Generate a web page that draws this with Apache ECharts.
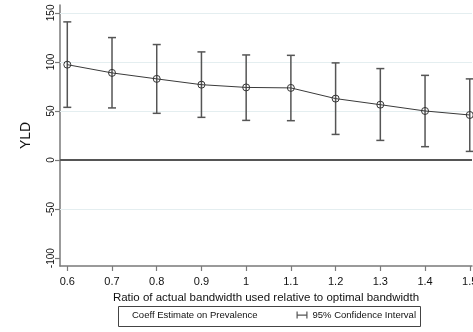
<!DOCTYPE html>
<html>
<head>
<meta charset="utf-8">
<script src="https://cdn.jsdelivr.net/npm/echarts@6/dist/echarts.min.js"></script>
<style>
html,body{margin:0;padding:0;background:#fff;}
#chart{width:473px;height:332px;}
</style>
</head>
<body>
<div id="chart"></div>
<script>
// Data
var ratios = [0.6, 0.7, 0.8, 0.9, 1.0, 1.1, 1.2, 1.3, 1.4, 1.5];
var coef   = [97.2, 88.8, 82.7, 76.8, 74.0, 73.5, 62.6, 56.4, 50.0, 45.9];
var ciLow  = [53.7, 53.1, 47.6, 43.5, 40.4, 40.1, 26.1, 20.0, 13.6, 8.8];
var ciHigh = [140.8, 124.8, 117.7, 110.2, 107.1, 106.7, 99.0, 93.2, 86.3, 82.7];
var xTicks = [0.6, 0.7, 0.8, 0.9, 1.0, 1.1, 1.2, 1.3, 1.4, 1.5];
var yTicks = [-100, -50, 0, 50, 100, 150];
var yGrid  = [-50, 50, 100, 150];

var FONT = 'Liberation Sans, Arial, sans-serif';
var chart = echarts.init(document.getElementById('chart'));

var lineData = ratios.map(function (r, i) { return [r, coef[i]]; });
var ciData = ratios.map(function (r, i) { return [r, ciLow[i], ciHigh[i]]; });

var gridMarks = yGrid.map(function (v) {
  return { yAxis: v, lineStyle: { color: '#e4eef0', width: 1, type: 'solid' } };
});
gridMarks.push({ yAxis: 0, lineStyle: { color: '#555', width: 2, type: 'solid' } });

chart.setOption({
  animation: false,
  textStyle: { fontFamily: FONT },
  grid: { left: 60, right: 1, top: 5, bottom: 66, outerBoundsMode: 'none', containLabel: false },
  xAxis: {
    type: 'value',
    min: 0.5837,
    max: 1.505,
    name: 'Ratio of actual bandwidth used relative to optimal bandwidth',
    nameLocation: 'middle',
    nameGap: 26,
    nameTextStyle: { fontSize: 11.5, color: '#111', fontFamily: FONT },
    axisLine: { show: true, onZero: false, lineStyle: { color: '#7a7a7a', width: 1.5 } },
    axisTick: { show: true, customValues: xTicks, length: 5, lineStyle: { color: '#7a7a7a', width: 1.2 } },
    axisLabel: { customValues: xTicks, fontSize: 11, color: '#111', margin: 10, fontFamily: FONT,
      formatter: function (v) { return String(Math.round(v * 10) / 10); } },
    splitLine: { show: false }
  },
  yAxis: {
    type: 'value',
    min: -108,
    max: 158,
    name: 'YLD',
    nameLocation: 'middle',
    nameGap: 27,
    nameTextStyle: { fontSize: 14, color: '#111', fontFamily: FONT },
    axisLine: { show: true, lineStyle: { color: '#7a7a7a', width: 1.5 } },
    axisTick: { show: true, customValues: yTicks, length: 5, lineStyle: { color: '#7a7a7a', width: 1.2 } },
    axisLabel: { customValues: yTicks, fontSize: 10, color: '#111', rotate: 90, margin: 4, fontFamily: FONT },
    splitLine: { show: false }
  },
  legend: {
    left: 116,
    top: 310,
    padding: 0,
    itemWidth: 11,
    itemHeight: 7,
    itemGap: 39,
    textStyle: { fontSize: 9.5, color: '#111', fontFamily: FONT },
    data: [
      { name: 'Coeff Estimate on Prevalence', icon: 'none' },
      { name: '95% Confidence Interval', icon: 'path://M0,0h1.2v7h-1.2z M0,3h11v1.2h-11z M9.8,0h1.2v7h-1.2z' }
    ]
  },
  graphic: [{
    type: 'rect',
    shape: { x: 118.5, y: 306.5, width: 302, height: 20 },
    style: { fill: 'none', stroke: '#444', lineWidth: 1 },
    z: 100
  }],
  series: [
    {
      name: '95% Confidence Interval',
      type: 'custom',
      itemStyle: { color: '#555' },
      z: 2,
      renderItem: function (params, api) {
        var x = api.value(0);
        var lo = api.coord([x, api.value(1)]);
        var hi = api.coord([x, api.value(2)]);
        var cap = 4;
        var st = { stroke: '#555', lineWidth: 1.5 };
        return {
          type: 'group',
          children: [
            { type: 'line', shape: { x1: lo[0], y1: lo[1], x2: hi[0], y2: hi[1] }, style: st },
            { type: 'line', shape: { x1: lo[0] - cap, y1: lo[1], x2: lo[0] + cap, y2: lo[1] }, style: st },
            { type: 'line', shape: { x1: hi[0] - cap, y1: hi[1], x2: hi[0] + cap, y2: hi[1] }, style: st }
          ]
        };
      },
      encode: { x: 0, y: [1, 2] },
      data: ciData
    },
    {
      name: 'Coeff Estimate on Prevalence',
      type: 'line',
      z: 3,
      data: lineData,
      symbol: 'circle',
      symbolSize: 7,
      showSymbol: true,
      lineStyle: { color: '#3a3a3a', width: 1 },
      itemStyle: { color: 'rgba(0,0,0,0)', borderColor: '#333', borderWidth: 1 },
      markLine: {
        silent: true,
        symbol: 'none',
        label: { show: false },
        data: gridMarks,
        z: 1
      }
    }
  ]
});
</script>
</body>
</html>
